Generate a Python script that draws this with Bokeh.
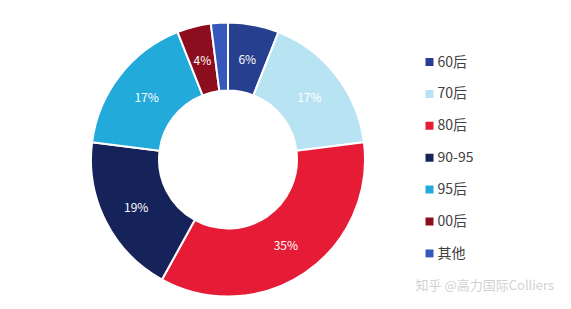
import numpy as np
from bokeh.plotting import figure
from bokeh.models import ColumnDataSource
from bokeh.core.properties import value
from bokeh.embed import file_html
from bokeh.resources import INLINE

categories = ["60后", "70后", "80后", "90-95", "95后", "00后", "其他"]
shares = [6, 17, 35, 19, 17, 4, 2]
labels = ["6%", "17%", "35%", "19%", "17%", "4%", ""]
colors = ["#263F8E", "#B8E3F3", "#E61C37", "#15235A", "#22AADB", "#8C0E1E", "#3657BC"]

W, H = 571, 309
cx, cy = 227.5, H - 159
r_in, r_out = 69, 137

vals = np.array(shares, dtype=float)
frac = vals / vals.sum()
ends = np.cumsum(frac)
starts = ends - frac
start_ang = np.pi / 2 - ends * 2 * np.pi
end_ang = np.pi / 2 - starts * 2 * np.pi
mid = (start_ang + end_ang) / 2
r_lab = (r_in + r_out) / 2

src = ColumnDataSource(dict(cat=categories, start=start_ang, end=end_ang, color=colors,
                            lx=cx + r_lab * np.cos(mid), ly=cy + r_lab * np.sin(mid), lab=labels))

p = figure(width=W, height=H, x_range=(0, W), y_range=(0, H), output_backend="svg",
           toolbar_location=None, min_border=0, outline_line_color=None)
p.axis.visible = False
p.grid.visible = False
p.background_fill_color = "white"

p.annular_wedge(x=cx, y=cy, inner_radius=r_in, outer_radius=r_out, start_angle="start",
                end_angle="end", fill_color="color", line_color="white", line_width=2, source=src)
p.text(x="lx", y="ly", text="lab", source=src, text_color="white", text_font_size="12px",
       text_align="center", text_baseline="middle", text_font=value("Noto Sans CJK SC"))

# legend
idx = np.arange(len(categories))
leg_y = H - (61.5 + idx * 31.9)
lsrc = ColumnDataSource(dict(y=leg_y, ty=leg_y + 1.5, cat=categories, color=colors))
p.scatter(x=429, y="y", marker="square", size=8, fill_color="color", line_color=None, source=lsrc)
p.text(x=437, y="ty", text="cat", source=lsrc, text_color="#404040", text_font_size="14px",
       text_align="left", text_baseline="middle", text_font=value("Noto Sans CJK SC"))

# watermark
p.text(x=[415], y=[H - 284], text=["知乎 @高力国际Colliers"], text_color="#D2D2D2",
       text_font_size="13px", text_align="left", text_baseline="middle",
       text_font=value("Noto Sans CJK SC"))

open("out.html", "w").write(file_html(p, INLINE))
